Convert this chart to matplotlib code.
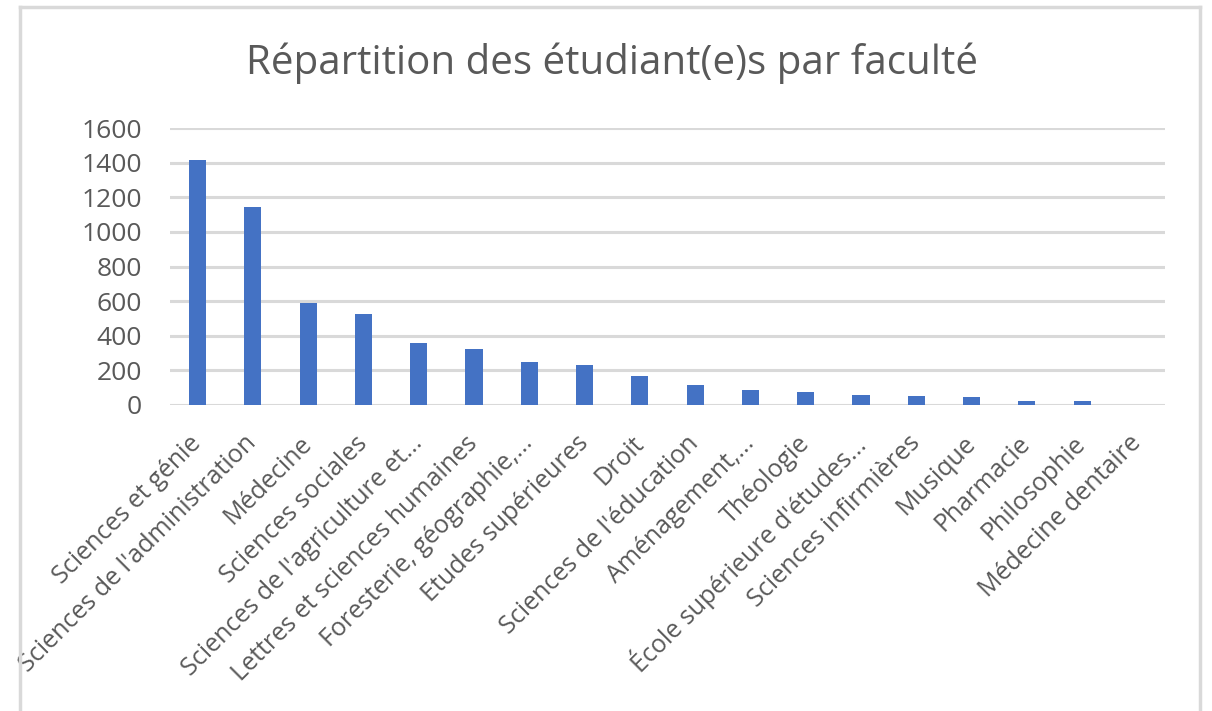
import matplotlib
matplotlib.use("Agg")
import matplotlib.pyplot as plt
from matplotlib.lines import Line2D

categories = [
    "Sciences et génie",
    "Sciences de l'administration",
    "Médecine",
    "Sciences sociales",
    "Sciences de l'agriculture et...",
    "Lettres et sciences humaines",
    "Foresterie, géographie,...",
    "Etudes supérieures",
    "Droit",
    "Sciences de l'éducation",
    "Aménagement,...",
    "Théologie",
    "École supérieure d'études...",
    "Sciences infirmières",
    "Musique",
    "Pharmacie",
    "Philosophie",
    "Médecine dentaire",
]
values = [1413, 1141, 588, 524, 360, 324, 251, 233, 170, 114, 87, 77, 60, 52, 44, 25, 25, 0]
yticks = [0, 200, 400, 600, 800, 1000, 1200, 1400, 1600]
title = "Répartition des étudiant(e)s par faculté"

plt.rcParams['font.family'] = ['Open Sans', 'DejaVu Sans']
text_color = "#595959"
grid_color = "#d9d9d9"
bar_color = "#4472C4"

fig = plt.figure(figsize=(12.12, 7.11), dpi=100)
W, H = 1212, 711
ax = fig.add_axes([170 / W, 1 - 405 / H, (1165 - 170) / W, (405 - 128) / H])

x = list(range(len(categories)))
ax.bar(x, values, width=0.31, color=bar_color, zorder=3)
ax.set_xlim(-0.5, len(categories) - 0.5)
ax.set_ylim(0, 1600)
ax.set_yticks(yticks)
ax.set_yticklabels([str(v) for v in yticks], fontsize=19, color=text_color)
ax.yaxis.grid(True, color=grid_color, linewidth=2.2, zorder=0)
ax.tick_params(axis='y', length=0, pad=20)
ax.tick_params(axis='x', length=0, pad=25)
ax.set_xticks(x)
ax.set_xticklabels(categories, rotation=45, ha='right', va='center',
                   rotation_mode='anchor', fontsize=18, color=text_color)
for s in ax.spines.values():
    s.set_visible(False)
ax.set_facecolor('none')

fig.text(612 / W, 1 - 63 / H, title, ha='center', va='center', fontsize=29, color=text_color)

# chart frame (screenshot border)
fig.add_artist(Line2D([20 / W, 20 / W], [0, 1 - 7 / H], transform=fig.transFigure, color=grid_color, lw=2.5))
fig.add_artist(Line2D([1200 / W, 1200 / W], [0, 1 - 7 / H], transform=fig.transFigure, color=grid_color, lw=2.5))
fig.add_artist(Line2D([20 / W, 1200 / W], [1 - 7 / H, 1 - 7 / H], transform=fig.transFigure, color=grid_color, lw=2.5))

fig.savefig("out.png", dpi=100)
